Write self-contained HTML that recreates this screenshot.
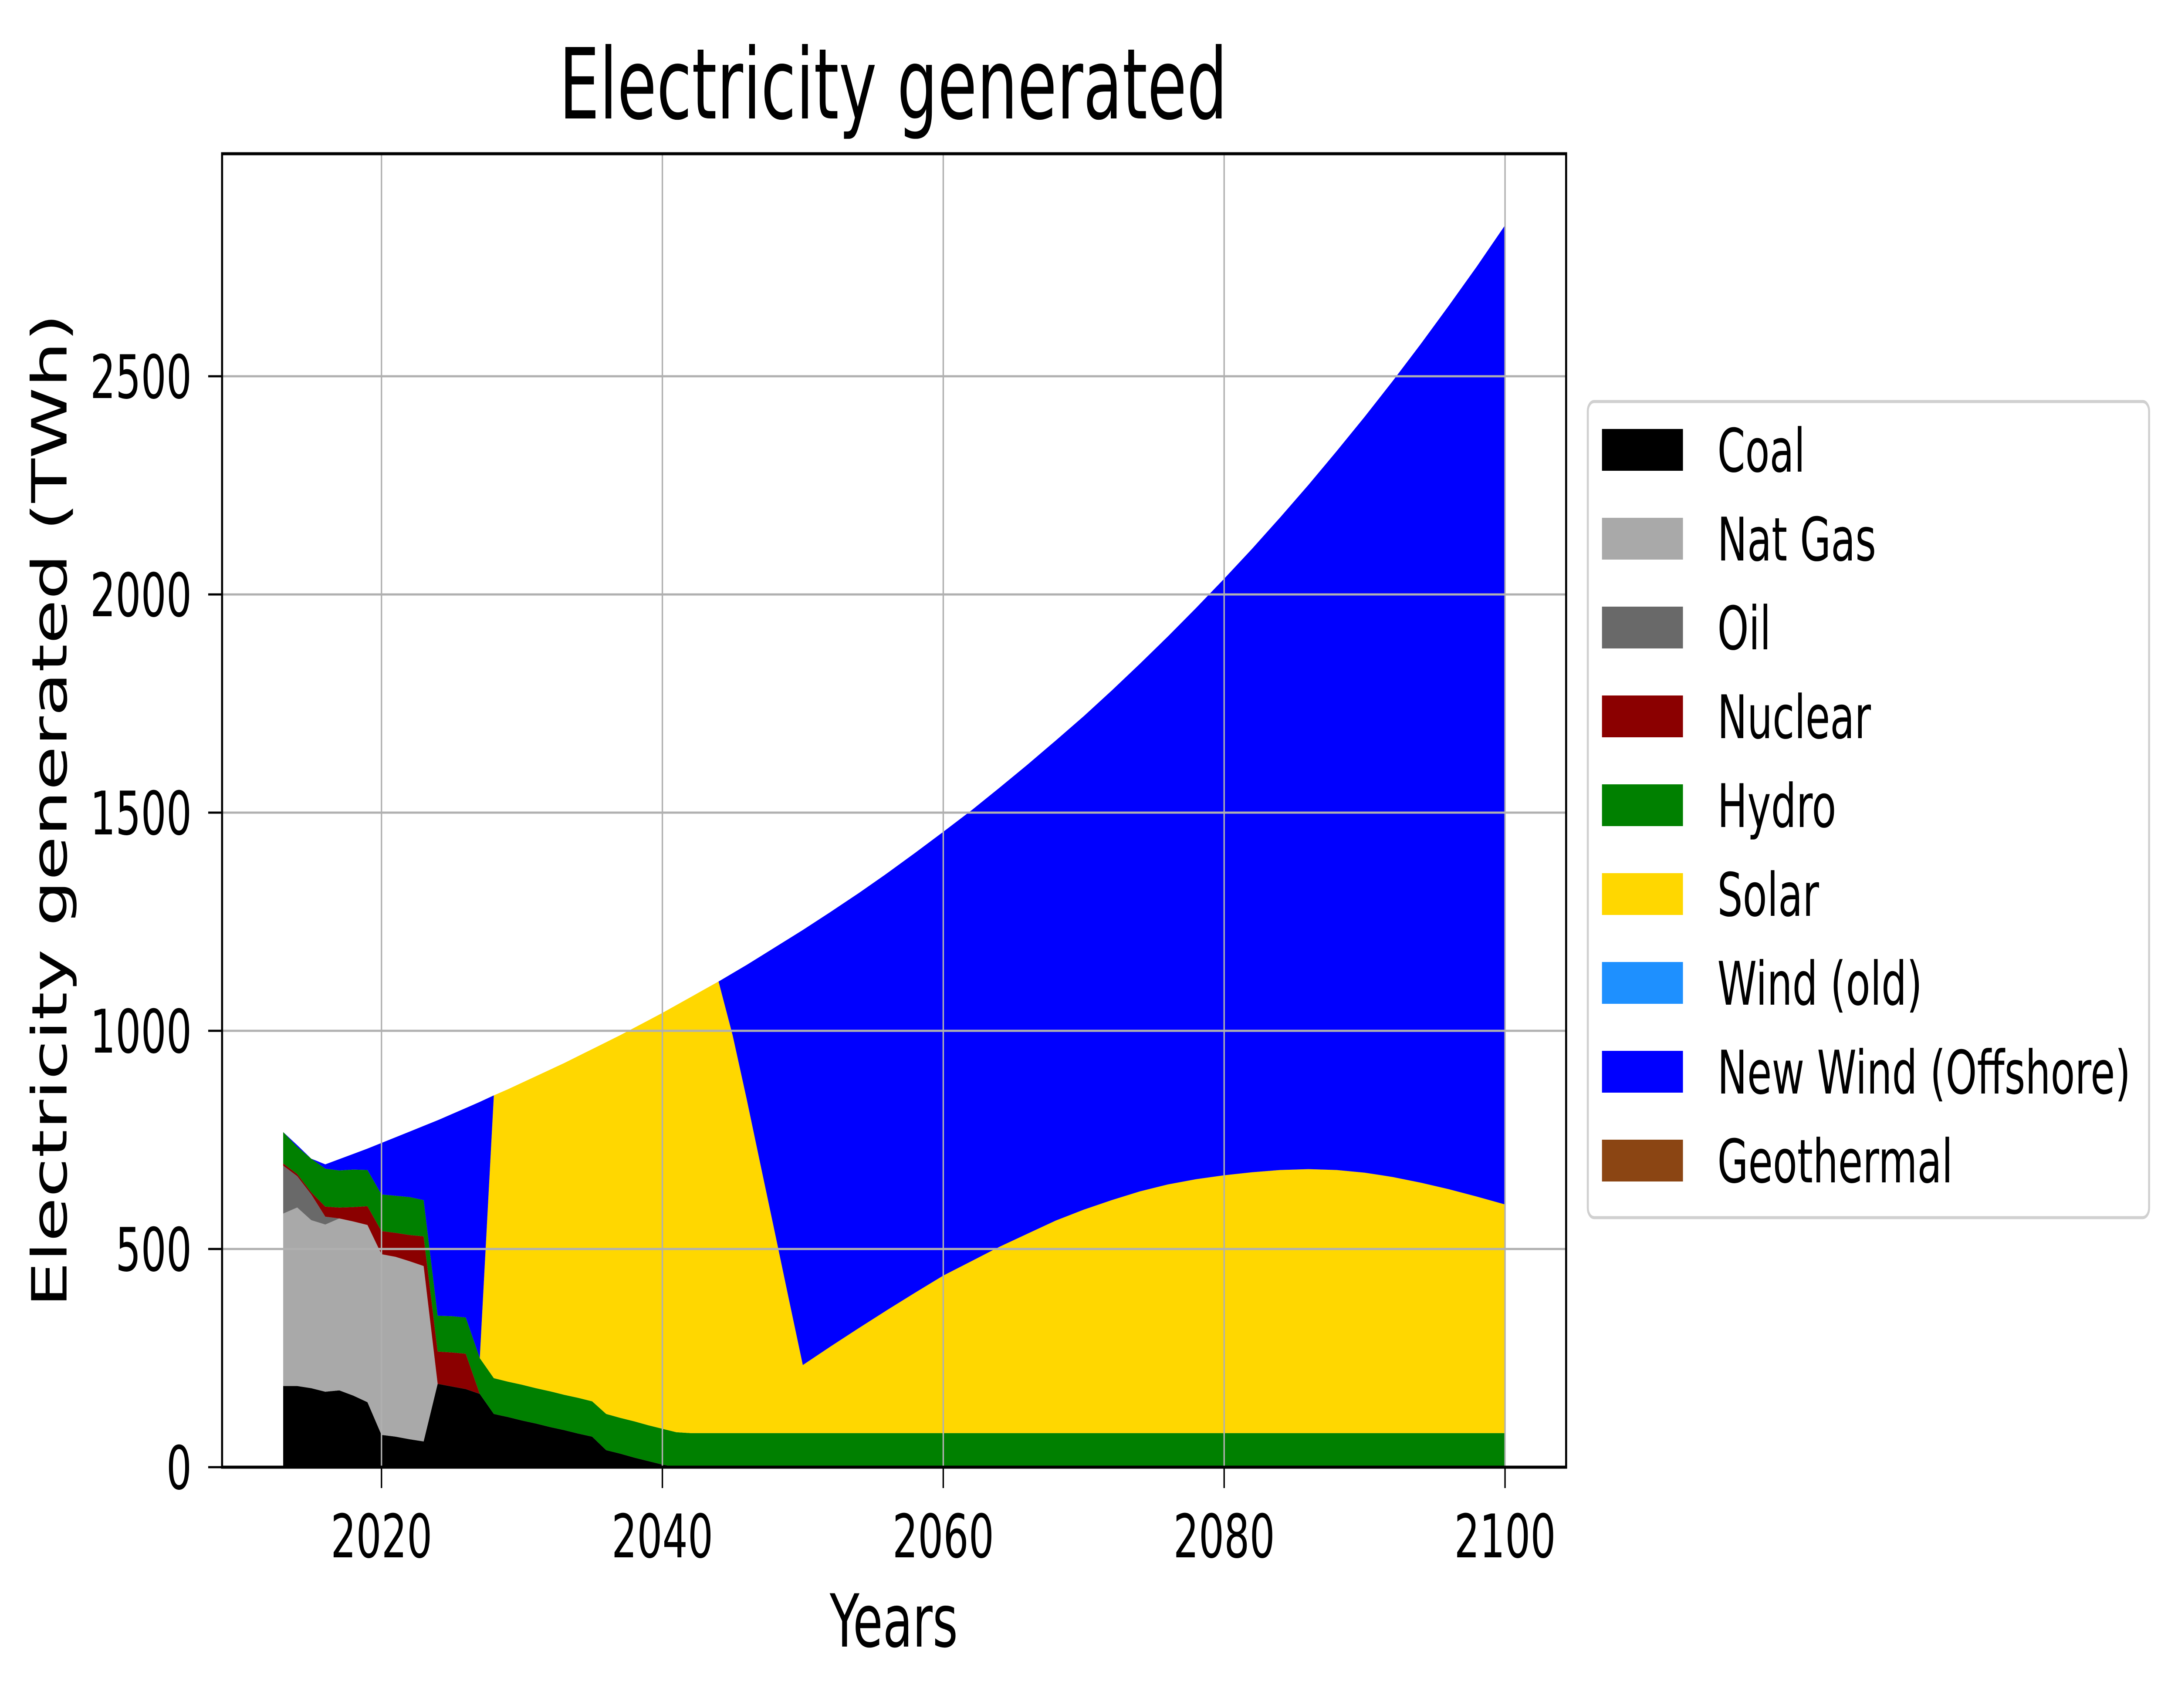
<!DOCTYPE html>
<html><head><meta charset="utf-8"><style>
html,body{margin:0;padding:0;background:#fff;width:100%;height:100%;overflow:hidden;}
svg{display:block;width:100vw;height:100vh;font-family:"DejaVu Sans","Liberation Sans",sans-serif;}
</style></head><body>
<svg id="chart" viewBox="0 0 7532 3922" preserveAspectRatio="none" xmlns="http://www.w3.org/2000/svg">
<rect width="7532" height="3922" fill="#fff"/>
<g id="areas"></g>
<g id="grid"></g>
<g id="axes"></g>
<text x="3089" y="272" font-size="225" text-anchor="middle" textLength="2311" lengthAdjust="spacingAndGlyphs">Electricity generated</text>
<text x="3091" y="3781" font-size="168" text-anchor="middle">Years</text>
<text transform="translate(230,1861) rotate(-90)" x="0" y="0" font-size="168" text-anchor="middle" textLength="2282" lengthAdjust="spacingAndGlyphs">Electricity generated (TWh)</text>
<g id="legend"></g>
</svg>
<script>
const years=[2013,2014,2015,2016,2017,2018,2019,2020,2021,2022,2023,2024,2025,2026,2027,2028,2029,2030,2031,2032,2033,2034,2035,2036,2037,2038,2039,2040,2041,2042,2043,2044,2045,2046,2047,2048,2049,2050,2052,2054,2056,2058,2060,2062,2064,2066,2068,2070,2072,2074,2076,2078,2080,2082,2084,2086,2088,2090,2092,2094,2096,2098,2100];
const coal=[186,186,181,173,176,164,149,74,70,64,59,191,185,179,168,122,115,107,100,92,85,77,70,39,31,22,14,6,0,0,0,0,0,0,0,0,0,0,0,0,0,0,0,0,0,0,0,0,0,0,0,0,0,0,0,0,0,0,0,0,0,0,0];
const natGas=[395,409,385,383,394,399,406,414,412,408,402,0,0,0,0,0,0,0,0,0,0,0,0,0,0,0,0,0,0,0,0,0,0,0,0,0,0,0,0,0,0,0,0,0,0,0,0,0,0,0,0,0,0,0,0,0,0,0,0,0,0,0,0];
const oil=[110,72,59,18,0,0,0,0,0,0,0,0,0,0,0,0,0,0,0,0,0,0,0,0,0,0,0,0,0,0,0,0,0,0,0,0,0,0,0,0,0,0,0,0,0,0,0,0,0,0,0,0,0,0,0,0,0,0,0,0,0,0,0];
const nuclear=[5,5,5,23,25,33,43,53,55,60,68,74,78,81,0,0,0,0,0,0,0,0,0,0,0,0,0,0,0,0,0,0,0,0,0,0,0,0,0,0,0,0,0,0,0,0,0,0,0,0,0,0,0,0,0,0,0,0,0,0,0,0,0];
const hydro=[72,62,77,87,85,86,83,84,85,87,83,82,83,83,82,82,81,82,81,82,81,82,81,83,82,83,82,82,80,78,78,78,78,78,78,78,78,78,78,78,78,78,78,78,78,78,78,78,78,78,78,78,78,78,78,78,78,78,78,78,78,78,78];
const solar=[0,0,0,0,0,0,0,0,0,0,0,0,0,0,0,648,670,692,715,737,760,783,807,852,877,902,928,953,979,999,1017,1035,912,766,613,461,308,156,199,241,282,322,361,394,427,457,487,512,534,554,570,582,591,598,603,605,603,597,587,574,559,542,524];
const windOld=[0,0,0,0,0,0,0,0,0,0,0,0,0,0,0,0,0,0,0,0,0,0,0,0,0,0,0,0,0,0,0,0,0,0,0,0,0,0,0,0,0,0,0,0,0,0,0,0,0,0,0,0,0,0,0,0,0,0,0,0,0,0,0];
const newWind=[0,4,0,10,26,36,49,118,134,150,170,448,463,480,587,0,0,0,0,0,0,0,0,0,0,0,0,0,0,0,0,0,142,307,480,652,825,997,996,997,1001,1008,1017,1033,1052,1075,1100,1131,1168,1209,1256,1309,1367,1429,1496,1568,1647,1732,1824,1922,2025,2132,2244];
const geothermal=[0,0,0,0,0,0,0,0,0,0,0,0,0,0,0,0,0,0,0,0,0,0,0,0,0,0,0,0,0,0,0,0,0,0,0,0,0,0,0,0,0,0,0,0,0,0,0,0,0,0,0,0,0,0,0,0,0,0,0,0,0,0,0];
const seriesNames=["Coal","Nat Gas","Oil","Nuclear","Hydro","Solar","Wind (old)","New Wind (Offshore)","Geothermal"];
const seriesData=[coal,natGas,oil,nuclear,hydro,solar,windOld,newWind,geothermal];
const seriesColors=["#000000","#a9a9a9","#696969","#8b0000","#008000","#ffd700","#1e90ff","#0000ff","#8b4513"];
const xTicks=[2020,2040,2060,2080,2100];
const yTicks=[0,500,1000,1500,2000,2500];

const NS="http://www.w3.org/2000/svg";
const L=768,R=5416,T=353,B=3369;
const xMin=2008.65,xMax=2104.35,yMax=3010;
const xs=v=>L+(v-xMin)/(xMax-xMin)*(R-L);
const ys=v=>B-v/yMax*(B-T);

const areas=document.getElementById('areas');
let base=years.map(()=>0);
seriesData.forEach((arr,si)=>{
  const top=arr.map((v,i)=>base[i]+v);
  let pts=years.map((yr,i)=>xs(yr).toFixed(1)+','+ys(top[i]).toFixed(1));
  for(let i=years.length-1;i>=0;i--) pts.push(xs(years[i]).toFixed(1)+','+ys(base[i]).toFixed(1));
  const p=document.createElementNS(NS,'polygon');
  p.setAttribute('points',pts.join(' '));
  p.setAttribute('fill',seriesColors[si]);
  
  
  areas.appendChild(p);
  base=top;
});

const grid=document.getElementById('grid');
const axes=document.getElementById('axes');
function line(g,x1,y1,x2,y2,c,w){const l=document.createElementNS(NS,'line');l.setAttribute('x1',x1);l.setAttribute('y1',y1);l.setAttribute('x2',x2);l.setAttribute('y2',y2);l.setAttribute('stroke',c);l.setAttribute('stroke-width',w);g.appendChild(l);return l;}
xTicks.forEach(t=>{
  const x=xs(t);
  const gl=line(grid,x,T,x,B,'#b0b0b0',5);
  
  
  const tk=line(axes,x,B,x,B+48,'#000',5);
  
  
  const tx=document.createElementNS(NS,'text');
  tx.setAttribute('x',x);tx.setAttribute('y',B+207);tx.setAttribute('font-size','138');tx.setAttribute('text-anchor','middle');
  tx.textContent=t;
  
  
  axes.appendChild(tx);
});
yTicks.forEach(t=>{
  const y=ys(t);
  const gl=line(grid,L,y,R,y,'#b0b0b0',5);
  
  
  const tk=line(axes,L-48,y,L,y,'#000',5);
  
  
  const tx=document.createElementNS(NS,'text');
  tx.setAttribute('x',L-105);tx.setAttribute('y',y+50);tx.setAttribute('font-size','138');tx.setAttribute('text-anchor','end');
  tx.textContent=t;
  
  
  axes.appendChild(tx);
});
const frame=document.createElementNS(NS,'rect');
frame.setAttribute('x',L);frame.setAttribute('y',T);frame.setAttribute('width',R-L);frame.setAttribute('height',B-T);
frame.setAttribute('fill','none');frame.setAttribute('stroke','#000');frame.setAttribute('stroke-width','7');


axes.appendChild(frame);

const leg=document.getElementById('legend');
const box=document.createElementNS(NS,'rect');
box.setAttribute('x',5491);box.setAttribute('y',922);box.setAttribute('width',1941);box.setAttribute('height',1874);
box.setAttribute('rx',22);box.setAttribute('fill','#fff');box.setAttribute('stroke','#d0d0d0');box.setAttribute('stroke-width','7');


leg.appendChild(box);
seriesNames.forEach((n,i)=>{
  const cy=1033+i*204;
  const g=document.createElementNS(NS,'g');
  
  
  const r=document.createElementNS(NS,'rect');
  r.setAttribute('x',5540);r.setAttribute('y',cy-48);r.setAttribute('width',280);r.setAttribute('height',96);
  r.setAttribute('fill',seriesColors[i]);
  
  
  g.appendChild(r);
  const t=document.createElementNS(NS,'text');
  t.setAttribute('x',5939);t.setAttribute('y',cy+50);t.setAttribute('font-size','138');
  t.textContent=n;
  
  
  g.appendChild(t);
  leg.appendChild(g);
});
</script>
</body></html>
